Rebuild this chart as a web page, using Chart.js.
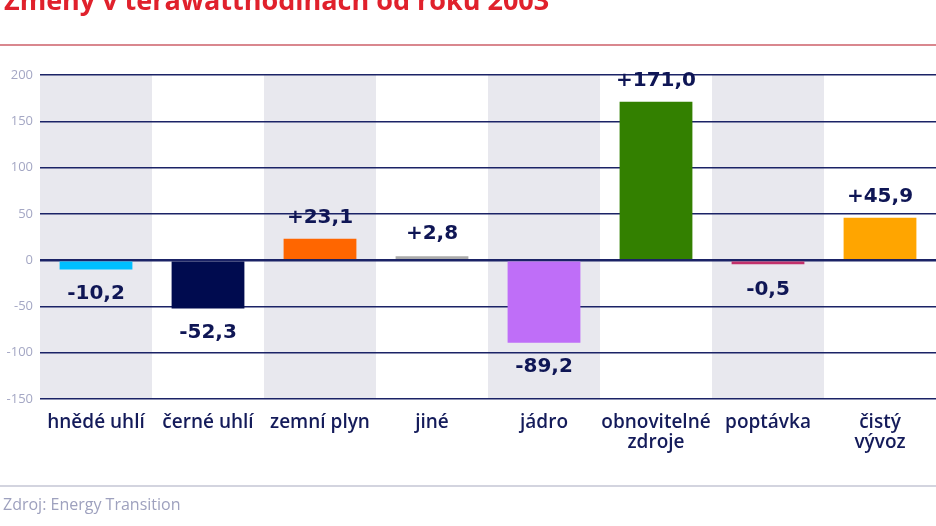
<!DOCTYPE html>
<html lang="cs">
<head>
<meta charset="utf-8">
<script src="https://cdn.jsdelivr.net/npm/chart.js@4/dist/chart.umd.min.js"></script>
<style>
  html, body { margin: 0; padding: 0; background: #fff; }
  body { width: 936px; height: 526px; position: relative; overflow: hidden; }
  #chart { position: absolute; left: 0; top: 0; }
  .title { position: absolute; left: 4px; top: -16px; margin: 0; font: 700 27px "Open Sans", sans-serif; color: #e0212c; white-space: nowrap; line-height: 1.2; }
  .redline { position: absolute; left: 0; top: 44px; width: 936px; height: 2px; background: #d9878e; }
  .greyline { position: absolute; left: 0; top: 485px; width: 936px; height: 2px; background: #d3d4df; }
  .source { position: absolute; left: 3px; top: 493px; font: 400 16px "Open Sans", sans-serif; color: #9ea1be; }
</style>
</head>
<body>
<canvas id="chart" width="936" height="526"></canvas>
<h1 class="title">Změny v terawatthodinách od roku 2003</h1>
<div class="redline"></div>
<div class="greyline"></div>
<div class="source">Zdroj: Energy Transition</div>
<script>
const categories = ['hnědé uhlí', 'černé uhlí', 'zemní plyn', 'jiné', 'jádro', ['obnovitelné', 'zdroje'], 'poptávka', ['čistý', 'vývoz']];
const changes = [-10.2, -52.3, 23.1, 2.8, -89.2, 171.0, -0.5, 45.9];
const yTicks = [-150, -100, -50, 0, 50, 100, 150, 200];

const barColors = ['#00bfff', '#000b4f', '#ff6600', '#aaaaaa', '#bf6ef8', '#338000', '#c2306b', '#ffa500'];
const navy = '#0f1655';

// light grey bands behind every other category
const bandsPlugin = {
    id: 'bands',
    beforeDraw(chart) {
        const { ctx, chartArea, scales } = chart;
        const step = (chartArea.right - chartArea.left) / categories.length;
        ctx.save();
        ctx.fillStyle = '#e8e8ee';
        categories.forEach((c, i) => {
            if (i % 2 !== 0) return;
            const cx = scales.x.getPixelForValue(i);
            ctx.fillRect(cx - step / 2, chartArea.top, step, chartArea.bottom - chartArea.top);
        });
        ctx.restore();
    }
};

// value labels above / below each bar
const valuesPlugin = {
    id: 'values',
    afterDatasetsDraw(chart) {
        const { ctx } = chart;
        const meta = chart.getDatasetMeta(0);
        ctx.save();
        ctx.font = 'bold 20px "DejaVu Sans", sans-serif';
        ctx.fillStyle = navy;
        ctx.textAlign = 'center';
        ctx.textBaseline = 'middle';
        meta.data.forEach((bar, i) => {
            const v = changes[i];
            const txt = (v > 0 ? '+' : '') + v.toFixed(1).replace('.', ',');
            const y = v >= 0 ? Math.min(bar.y, bar.base - 4) - 21 : Math.max(bar.y, bar.base + 4) + 24;
            ctx.fillText(txt, bar.x, y);
        });
        ctx.restore();
    }
};

new Chart(document.getElementById('chart'), {
    type: 'bar',
    data: {
        labels: categories,
        datasets: [{
            data: changes,
            backgroundColor: barColors,
            borderWidth: 0,
            categoryPercentage: 1,
            barPercentage: 0.65,
            minBarLength: 4,
        }],
    },
    options: {
        responsive: false,
        animation: false,
        devicePixelRatio: 1,
        layout: { padding: { top: 75, left: 0, right: 0, bottom: 0 } },
        plugins: { legend: { display: false }, tooltip: { enabled: false } },
        scales: {
            x: {
                afterFit(scale) { scale.height = 127; },
                grid: { display: false, drawTicks: false },
                border: { display: false },
                ticks: {
                    color: '#141b5a',
                    font: { family: '"Open Sans", sans-serif', size: 19, weight: '600', lineHeight: 1.08 },
                    padding: 13,
                    maxRotation: 0,
                    autoSkip: false,
                },
            },
            y: {
                min: -150,
                max: 200,
                afterFit(scale) { scale.width = 40; },
                afterBuildTicks(scale) { scale.ticks = yTicks.map(v => ({ value: v })); },
                grid: {
                    color: '#1b2366',
                    lineWidth: ctx => (ctx.tick && ctx.tick.value === 0 ? 2.5 : 1.5),
                    drawTicks: false,
                },
                border: { display: false },
                ticks: {
                    color: '#a4a7c4',
                    font: { family: '"Open Sans", sans-serif', size: 13 },
                    padding: 7,
                },
            },
        },
    },
    plugins: [bandsPlugin, valuesPlugin],
});
</script>
</body>
</html>
